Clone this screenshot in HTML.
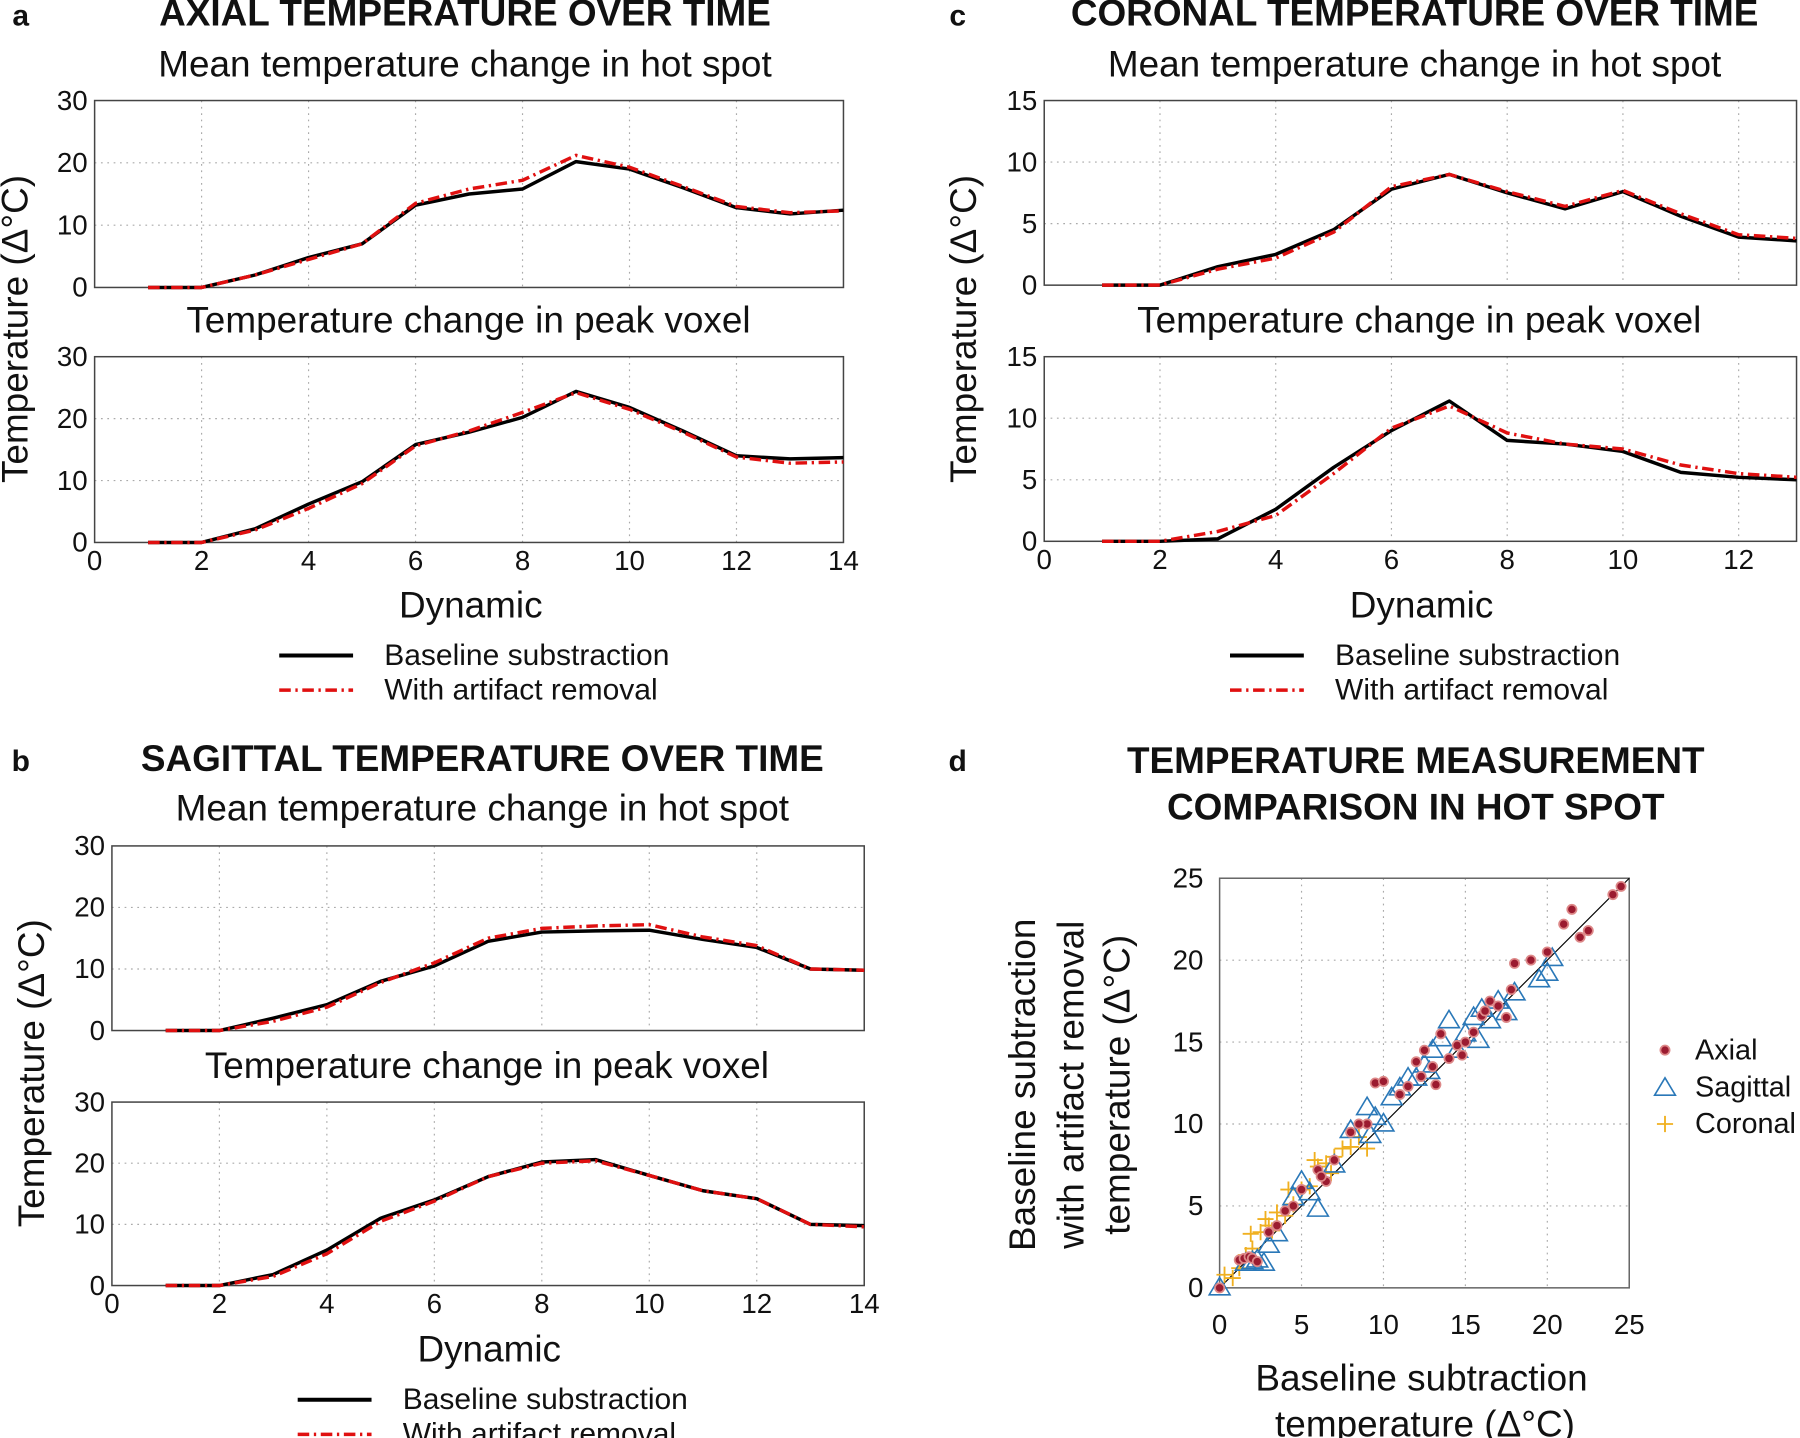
<!DOCTYPE html>
<html><head><meta charset="utf-8"><title>Temperature over time</title>
<style>
html,body{margin:0;padding:0;background:#fff;}
svg{display:block;}
text{font-family:"Liberation Sans",Arial,sans-serif;fill:#111;}
</style></head>
<body>
<svg id="fig" width="1800" height="1438" viewBox="0 0 1560 1246" xmlns="http://www.w3.org/2000/svg">
<g id="root"></g>
</svg>
<script>
// ---- data ----
const dyn14 = [1,2,3,4,5,6,7,8,9,10,11,12,13,14];
const dyn13 = [1,2,3,4,5,6,7,8,9,10,11,12,13];
const axialMeanBase = [0,0,2,4.8,7,13.2,15,15.8,20.2,19,16,12.8,11.8,12.4];
const axialMeanArt  = [0,0,2,4.5,7,13.5,15.8,17.2,21.2,19.3,16.2,13,12,12.3];
const axialPeakBase = [0,0,2.2,6.2,9.8,15.8,17.8,20.2,24.4,21.8,18,14,13.5,13.7];
const axialPeakArt  = [0,0,2,5.5,9.5,15.6,18,21,24.2,21.5,17.8,13.8,12.8,13];
const sagMeanBase = [0,0,2,4.2,8,10.5,14.5,16,16.2,16.3,14.8,13.5,10,9.8];
const sagMeanArt  = [0,0,1.5,3.8,7.8,11,15,16.6,17,17.2,15.2,13.8,10,9.8];
const sagPeakBase = [0,0,1.8,5.8,11,14,17.8,20.2,20.6,18,15.5,14.2,10,9.8];
const sagPeakArt  = [0,0,1.5,5.2,10.5,13.8,17.8,20,20.4,18,15.5,14.2,10,9.6];
const corMeanBase = [0,0,1.5,2.5,4.5,7.8,9,7.5,6.2,7.6,5.6,3.9,3.6];
const corMeanArt  = [0,0,1.3,2.2,4.3,8,9,7.6,6.4,7.7,5.8,4.1,3.8];
const corPeakBase = [0,0,0.2,2.6,6,9,11.4,8.2,7.9,7.3,5.6,5.2,5];
const corPeakArt  = [0,0,0.8,2.1,5.5,9.2,11,8.8,7.9,7.5,6.2,5.5,5.2];
const ticks30 = [0,10,20,30];
const ticks15 = [0,5,10,15];
const xTicks14 = [0,2,4,6,8,10,12,14];
const xTicks13 = [0,2,4,6,8,10,12];
const scatTicks = [0,5,10,15,20,25];
const axialX = [0,1.2,1.5,1.8,2,2.3,3,3.5,4,4.5,5,6,6.5,7,8,9,9.5,10,11,11.5,12,12.5,13,13.5,14,14.5,15,15.5,16,16.5,17,17.5,18,19,20,21,21.5,22,22.5,24,24.5,12.3,13.2,14.8,16.2,17.8,6.2,8.5];
const axialY = [0,1.7,1.8,1.9,1.8,1.6,3.4,3.8,4.7,5,6,7.2,6.5,7.8,9.5,10,12.5,12.6,11.8,12.3,13.8,14.5,13.5,15.5,14,14.8,15,15.6,16.6,17.5,17.2,16.5,19.8,20,20.5,22.2,23.1,21.4,21.8,24,24.5,12.9,12.4,14.2,16.9,18.2,6.8,10];
const sagX = [0,1.6,2,2.3,2.7,3,3.5,4.5,5,5.5,6,7,8,9,9.5,10,10.5,11,12,12.5,13,13.5,14,14.5,15,15.5,16,16.5,17,17.5,18,19.5,20.3,20,12.8,11.5,9.2,15.8];
const sagY = [0,1.5,1.6,1.7,1.5,2.6,3.3,5.5,6.5,5.8,4.8,7.5,9.6,11,10.4,10,11.6,12.2,12.8,13.6,14.5,15.2,16.3,14.5,15.5,16.5,17,16.3,17.5,16.8,18,18.8,20.1,19.2,13.2,12.8,9.3,15.1];
const corX = [0.3,0.8,1.2,1.6,2,2.5,3,3.5,4,4.5,5,5.5,6,6.5,7,7.5,8,8.5,9,2.8,1.9,4.2,5.8,3.2,6.8];
const corY = [0.8,0.6,1.2,2,2.4,3.4,3.8,4.6,4.4,5.1,6,6.2,7.4,7.6,8,8.5,8.6,9.2,8.5,4.2,3.3,6,7.8,3.5,7];

const NS = "http://www.w3.org/2000/svg";
const root = document.getElementById('root');
function mk(tag, attrs, parent, txt){
  const e = document.createElementNS(NS, tag);
  for (const k in attrs) e.setAttribute(k, attrs[k]);
  if (txt !== undefined) e.textContent = txt;
  (parent||root).appendChild(e);
  return e;
}
function txt(x,y,s,size,opts,parent){
  opts = opts||{};
  const t = mk('text',{x:x,y:y,'font-size':size,'text-anchor':opts.anchor||'middle','font-weight':opts.bold?'bold':'normal'},parent,s);
  if (opts.rot) t.setAttribute('transform','rotate(-90 '+x+' '+y+')');
  return t;
}

function lineAxes(name, x0,x1,y0,y1,xmax,ymax,yt,xt,base,art,xs,showX){
  const g = mk('g',{});
  
  
  const sx = v => x0 + (x1-x0)*v/xmax;
  const sy = v => y1 - (y1-y0)*v/ymax;
  xt.forEach(v=>{ if(v>0&&v<xmax) mk('line',{x1:sx(v),x2:sx(v),y1:y0,y2:y1,stroke:'#aaa','stroke-width':1,'stroke-dasharray':'1.5 4'},g);});
  yt.forEach(v=>{ if(v>0&&v<ymax) mk('line',{x1:x0,x2:x1,y1:sy(v),y2:sy(v),stroke:'#aaa','stroke-width':1,'stroke-dasharray':'1.5 4'},g);});
  mk('rect',{x:x0,y:y0,width:x1-x0,height:y1-y0,fill:'none',stroke:'#444','stroke-width':1.3},g);
  yt.forEach(v=>{
    const t = txt(x0-6, sy(v)+8, String(v), 24, {anchor:'end'}, g);
    
    
  });
  if (showX) xt.forEach(v=>{
    const t = txt(sx(v), y1+24, String(v), 24, {}, g);
    
    
  });
  const pb = mk('polyline',{points:xs.map((x,i)=>sx(x)+','+sy(base[i])).join(' '),fill:'none',stroke:'#000','stroke-width':3,'stroke-linejoin':'round'},g);
  
  
  const pa = mk('polyline',{points:xs.map((x,i)=>sx(x)+','+sy(art[i])).join(' '),fill:'none',stroke:'#e01010','stroke-width':3,'stroke-dasharray':'10 4 2 4','stroke-linejoin':'round'},g);
  
  
}

function legend(lx, ty){
  const g = mk('g',{});
  
  
  mk('line',{x1:lx,x2:lx+64,y1:ty,y2:ty,stroke:'#000','stroke-width':3.5},g);
  txt(lx+91, ty+8, 'Baseline substraction', 26, {anchor:'start'}, g);
  mk('line',{x1:lx,x2:lx+64,y1:ty+30,y2:ty+30,stroke:'#e01010','stroke-width':3,'stroke-dasharray':'10 4 2 4'},g);
  txt(lx+91, ty+38, 'With artifact removal', 26, {anchor:'start'}, g);
}

// Panel a
txt(18, 22, 'a', 26, {bold:true});
txt(403, 22, 'AXIAL TEMPERATURE OVER TIME', 32, {bold:true});
txt(403, 66, 'Mean temperature change in hot spot', 32);
lineAxes('axial-mean-chart', 82,731,87,249,14,30,ticks30,xTicks14,axialMeanBase,axialMeanArt,dyn14,false);
txt(406, 288, 'Temperature change in peak voxel', 32);
lineAxes('axial-peak-chart', 82,731,309,470,14,30,ticks30,xTicks14,axialPeakBase,axialPeakArt,dyn14,true);
txt(408, 535, 'Dynamic', 32);
txt(24, 285, 'Temperature (\u0394\u00B0C)', 32, {rot:true});
legend(242, 568);

// Panel c
txt(830, 22, 'c', 26, {bold:true});
txt(1226, 22, 'CORONAL TEMPERATURE OVER TIME', 32, {bold:true});
txt(1226, 66, 'Mean temperature change in hot spot', 32);
lineAxes('coronal-mean-chart', 905,1557,87,247,13,15,ticks15,xTicks13,corMeanBase,corMeanArt,dyn13,false);
txt(1230, 288, 'Temperature change in peak voxel', 32);
lineAxes('coronal-peak-chart', 905,1557,309,469,13,15,ticks15,xTicks13,corPeakBase,corPeakArt,dyn13,true);
txt(1232, 535, 'Dynamic', 32);
txt(846, 285, 'Temperature (\u0394\u00B0C)', 32, {rot:true});
legend(1066, 568);

// Panel b
txt(18, 668, 'b', 26, {bold:true});
txt(418, 668, 'SAGITTAL TEMPERATURE OVER TIME', 32, {bold:true});
txt(418, 711, 'Mean temperature change in hot spot', 32);
lineAxes('sagittal-mean-chart', 97,749,733,893,14,30,ticks30,xTicks14,sagMeanBase,sagMeanArt,dyn14,false);
txt(422, 934, 'Temperature change in peak voxel', 32);
lineAxes('sagittal-peak-chart', 97,749,955,1114,14,30,ticks30,xTicks14,sagPeakBase,sagPeakArt,dyn14,true);
txt(424, 1180, 'Dynamic', 32);
txt(38, 930, 'Temperature (\u0394\u00B0C)', 32, {rot:true});
legend(258, 1213);

// Panel d
txt(830, 668, 'd', 26, {bold:true});
txt(1227, 670, 'TEMPERATURE MEASUREMENT', 32, {bold:true});
txt(1227, 710, 'COMPARISON IN HOT SPOT', 32, {bold:true});
(function(){
  const x0=1057,x1=1412,y0=761,y1=1116,m=25;
  const g = mk('g',{});
  
  
  const sx=v=>x0+(x1-x0)*v/m, sy=v=>y1-(y1-y0)*v/m;
  scatTicks.forEach(v=>{ if(v>0&&v<m){
    mk('line',{x1:sx(v),x2:sx(v),y1:y0,y2:y1,stroke:'#aaa','stroke-width':1,'stroke-dasharray':'1.5 4'},g);
    mk('line',{x1:x0,x2:x1,y1:sy(v),y2:sy(v),stroke:'#aaa','stroke-width':1,'stroke-dasharray':'1.5 4'},g);}});
  mk('rect',{x:x0,y:y0,width:x1-x0,height:y1-y0,fill:'none',stroke:'#666','stroke-width':1.3},g);
  scatTicks.forEach(v=>{
    const a = txt(x0-14, sy(v)+8, String(v), 24, {anchor:'end'}, g);
    
    
    const b = txt(sx(v), y1+40, String(v), 24, {}, g);
    
    
  });
  mk('line',{x1:sx(0),y1:sy(0),x2:sx(25),y2:sy(25),stroke:'#000','stroke-width':1},g);
  function tri(cx,cy,parent){ return mk('polygon',{points:(cx)+','+(cy-9)+' '+(cx-9)+','+(cy+6)+' '+(cx+9)+','+(cy+6),fill:'none',stroke:'#2a78b8','stroke-width':1.4},parent); }
  function plus(cx,cy,parent){ return mk('path',{d:'M'+(cx-7)+' '+cy+'h14M'+cx+' '+(cy-7)+'v14',stroke:'#f0b020','stroke-width':1.6,fill:'none'},parent); }
  function star(cx,cy,parent){ const gg=mk('g',{},parent); mk('circle',{cx:cx,cy:cy,r:4,fill:'#9b1b30',stroke:'#d88','stroke-width':1.5},gg); return gg; }
  corX.forEach((v,i)=>{ const e=plus(sx(v),sy(corY[i]),g);   });
  sagX.forEach((v,i)=>{ const e=tri(sx(v),sy(sagY[i]),g);   });
  axialX.forEach((v,i)=>{ const e=star(sx(v),sy(axialY[i]),g);   });
  txt(1232, 1205, 'Baseline subtraction', 32);
  txt(1235, 1245, 'temperature (\u0394\u00B0C)', 32);
  txt(897, 940, 'Baseline subtraction', 32, {rot:true});
  txt(939, 940, 'with artifact removal', 32, {rot:true});
  txt(979, 940, 'temperature (\u0394\u00B0C)', 32, {rot:true});
  const lg = mk('g',{});
  
  
  star(1443, 910, lg); txt(1469, 918, 'Axial', 25, {anchor:'start'}, lg);
  tri(1443, 943, lg); txt(1469, 950, 'Sagittal', 25, {anchor:'start'}, lg);
  plus(1443, 974, lg); txt(1469, 982, 'Coronal', 25, {anchor:'start'}, lg);
})();
</script>
</body></html>
